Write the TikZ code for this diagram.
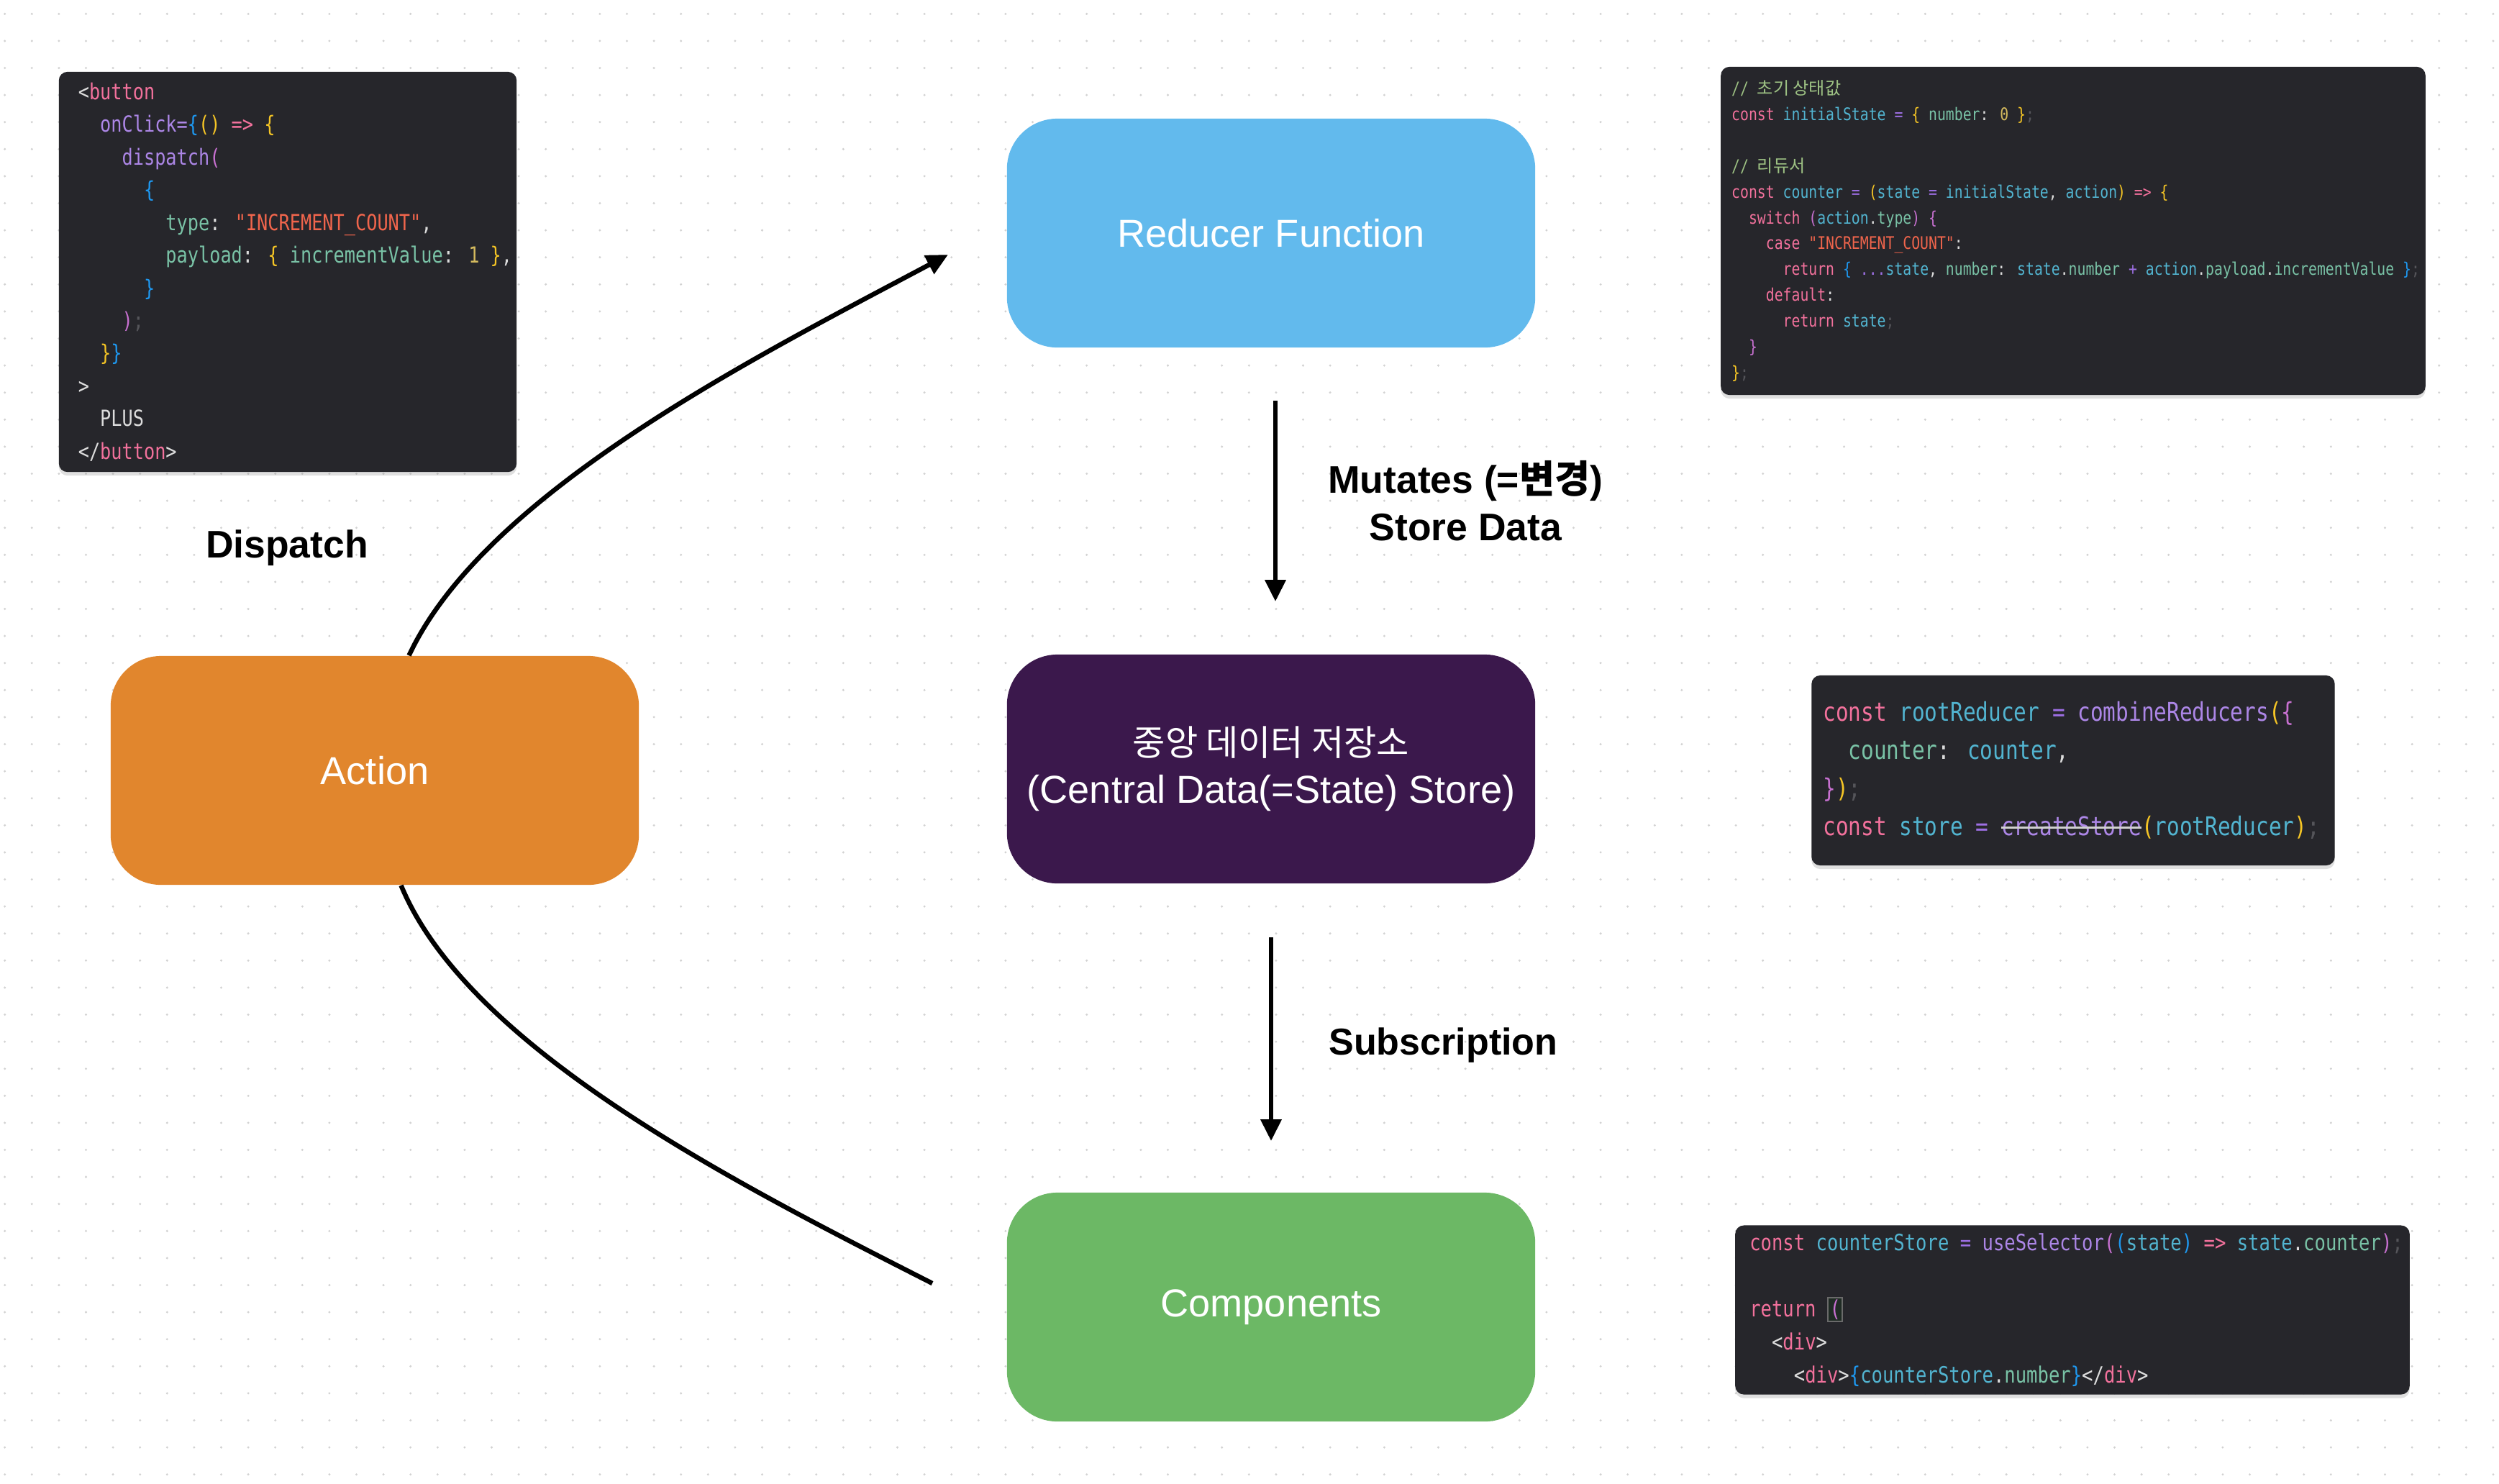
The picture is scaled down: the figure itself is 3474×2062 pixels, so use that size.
\documentclass[tikz,border=0pt]{standalone}
\usepackage{fontspec}
\setmainfont{Liberation Sans}
\newfontfamily\kr{Noto Sans CJK KR}
\newfontfamily\codefont{DejaVu Sans Mono}[FakeStretch=0.82]
\usetikzlibrary{arrows.meta,positioning,shadows}

\definecolor{dotgray}{HTML}{D2D2D2}
\definecolor{codebg}{HTML}{26262B}
\definecolor{reducerblue}{HTML}{62BAED}
\definecolor{storepurple}{HTML}{3B184C}
\definecolor{compgreen}{HTML}{6CB865}
\definecolor{actionorange}{HTML}{E1862D}
% syntax colours of the snippets
\definecolor{ckey}{HTML}{F2719C}
\definecolor{cfun}{HTML}{AC86E6}
\definecolor{ceq}{HTML}{9D6FE3}
\definecolor{cbr}{HTML}{1E98F0}
\definecolor{cyel}{HTML}{F5C525}
\definecolor{cpro}{HTML}{79C2A6}
\definecolor{cvar}{HTML}{52B4D0}
\definecolor{cstr}{HTML}{F0654C}
\definecolor{cnum}{HTML}{D4BA5E}
\definecolor{cmag}{HTML}{C770D0}
\definecolor{cpl}{HTML}{DCDCDC}
\definecolor{csemi}{HTML}{55555A}
\definecolor{ccom}{HTML}{9DC183}
\definecolor{cstrike}{HTML}{D0D0D0}
\definecolor{ccursor}{HTML}{1F2B24}
\definecolor{cdim}{HTML}{6A6A6A}

\newcommand{\cKey}[1]{\textcolor{ckey}{#1}}
\newcommand{\cFun}[1]{\textcolor{cfun}{#1}}
\newcommand{\cEq}[1]{\textcolor{ceq}{#1}}
\newcommand{\cBr}[1]{\textcolor{cbr}{#1}}
\newcommand{\cYel}[1]{\textcolor{cyel}{#1}}
\newcommand{\cPro}[1]{\textcolor{cpro}{#1}}
\newcommand{\cVar}[1]{\textcolor{cvar}{#1}}
\newcommand{\cStr}[1]{\textcolor{cstr}{#1}}
\newcommand{\cNum}[1]{\textcolor{cnum}{#1}}
\newcommand{\cMag}[1]{\textcolor{cmag}{#1}}
\newcommand{\cPl}[1]{\textcolor{cpl}{#1}}
\newcommand{\cSemi}[1]{\textcolor{csemi}{#1}}
\newcommand{\cCom}[1]{\textcolor{ccom}{#1}}
\newcommand{\ind}[1]{\hspace*{#1\fontcharwd\font`0}}
\newcommand{\struck}[2]{\rlap{#2}\textcolor{cstrike}{\rule[0.28em]{#1\fontcharwd\font`0}{0.08em}}}
\newcommand{\cursorbox}[1]{{\setlength{\fboxsep}{0.4pt}\setlength{\fboxrule}{0.6pt}\fcolorbox{cdim}{ccursor}{#1}}}

\begin{document}
\begin{tikzpicture}[x=0.01cm, y=-0.01cm,
	>={Triangle[length=0.3cm,width=0.28cm]}, % filled arrow head
	flow/.style={line width=0.065cm},
	blk/.style={rounded corners=0.7cm, minimum width=7.34cm, minimum height=3.18cm,
		text=white, align=center, font=\fontsize{15.4}{18.8}\selectfont},
	lbl/.style={font=\bfseries\fontsize{15.2}{18.8}\selectfont, align=center, inner sep=0pt},
	codebox/.style={fill=codebg, rounded corners=0.12cm,
		drop shadow={shadow xshift=0pt, shadow yshift=-0.05cm, opacity=0.25}},
	codetxt/.style={inner sep=0pt, align=left, anchor=west}]

	\useasboundingbox (0,0) rectangle (3474,2062);
	\fill[white] (0,0) rectangle (3474,2062);

	% dotted canvas
	\foreach \i in {0,...,92}
		\foreach \j in {0,...,54}
			\fill[dotgray] (6.7+37.6*\i, 19.3+37.6*\j) circle (0.47pt);

	\node[blk, fill=reducerblue] (reducer) at (1767,324)	{Reducer Function};
	\node[blk, fill=storepurple] (store) at (1767,1069)	{{\kr\fontsize{14}{18.8}\selectfont 중앙 데이터 저장소}\\(Central Data(=State) Store)};
	\node[blk, fill=compgreen] (comps) at (1767,1817)	{Components};
	\node[blk, fill=actionorange] (action) at (521,1071)	{Action};

	\node[lbl] (dispatchLbl) at (399,762) {Dispatch};

	\coordinate (dispEnd) at (1318,354);
	\coordinate (subEnd) at (1296,1784);

	\draw[flow,->] ([xshift=0.475cm]action.north) .. controls (675,684) and (1053,495) .. (dispEnd);
	\draw[flow] ([xshift=0.365cm]action.south) .. controls (652,1459) and (1029,1648) .. (subEnd);
	\draw[flow,->,shorten <=0.73cm,shorten >=0.73cm] ([xshift=0.06cm]reducer.south) -- ([xshift=0.06cm]store.north)
		node[midway, right=0.7cm, lbl] (mutatesLbl) {Mutates (={\kr 변경})\\Store Data};
	\draw[flow,->,shorten <=0.74cm,shorten >=0.71cm] (store.south) -- (comps.north)
		node[midway, right=0.77cm, yshift=-0.1cm, lbl, font=\bfseries\fontsize{14.8}{18.8}\selectfont] (subLbl) {Subscription};

	% code snippets
	\node[codebox, minimum width=6.36cm, minimum height=5.56cm] (codeBtn) at (400,378) {};
	\node[codetxt, right=0.27cm of codeBtn.west, font=\codefont\fontsize{8.76}{12.92}\selectfont] (btnTxt) {%
		\cPl{<}\cKey{button}\\
		\ind{2}\cFun{onClick=}\cBr{\{}\cYel{()} \cKey{=>} \cYel{\{}\\
		\ind{4}\cFun{dispatch}\cMag{(}\\
		\ind{6}\cBr{\{}\\
		\ind{8}\cPro{type}\cPl{:} \cStr{"INCREMENT\_COUNT"}\cPl{,}\\
		\ind{8}\cPro{payload}\cPl{:} \cYel{\{} \cPro{incrementValue}\cPl{:} \cNum{1} \cYel{\}}\cPl{,}\\
		\ind{6}\cBr{\}}\\
		\ind{4}\cMag{)}\cSemi{;}\\
		\ind{2}\cYel{\}}\cBr{\}}\\
		\cPl{>}\\
		\ind{2}\cPl{PLUS}\\
		\cPl{</}\cKey{button}\cPl{>}};

	\node[codebox, minimum width=9.79cm, minimum height=4.56cm] (codeRed) at (2882,321) {};
	\node[codetxt, right=0.15cm of codeRed.west, font=\codefont\fontsize{6.86}{10.19}\selectfont] (redTxt) {%
		\cCom{// {\kr 초기 상태값}}\\
		\cKey{const} \cVar{initialState} \cEq{=} \cYel{\{} \cPro{number}\cPl{:} \cNum{0} \cYel{\}}\cSemi{;}\\
		\mbox{}\\
		\cCom{// {\kr 리듀서}}\\
		\cKey{const} \cVar{counter} \cEq{=} \cYel{(}\cVar{state} \cEq{=} \cVar{initialState}\cPl{,} \cVar{action}\cYel{)} \cKey{=>} \cYel{\{}\\
		\ind{2}\cKey{switch} \cMag{(}\cVar{action}\cPl{.}\cPro{type}\cMag{)} \cMag{\{}\\
		\ind{4}\cKey{case} \cStr{"INCREMENT\_COUNT"}\cPl{:}\\
		\ind{6}\cKey{return} \cBr{\{} \cEq{...}\cVar{state}\cPl{,} \cPro{number}\cPl{:} \cVar{state}\cPl{.}\cPro{number} \cEq{+} \cVar{action}\cPl{.}\cPro{payload}\cPl{.}\cPro{incrementValue} \cBr{\}}\cSemi{;}\\
		\ind{4}\cKey{default}\cPl{:}\\
		\ind{6}\cKey{return} \cVar{state}\cSemi{;}\\
		\ind{2}\cMag{\}}\\
		\cYel{\}}\cSemi{;}};

	\node[codebox, minimum width=7.27cm, minimum height=2.64cm] (codeRoot) at (2882,1071) {};
	\node[codetxt, right=0.16cm of codeRoot.west, font=\codefont\fontsize{10.2}{15.08}\selectfont] (rootTxt) {%
		\cKey{const} \cVar{rootReducer} \cEq{=} \cFun{combineReducers}\cYel{(}\cMag{\{}\\
		\ind{2}\cPro{counter}\cPl{:} \cVar{counter}\cPl{,}\\
		\cMag{\}}\cYel{)}\cSemi{;}\\
		\cKey{const} \cVar{store} \cEq{=} \struck{11}{\cFun{createStore}}\cYel{(}\cVar{rootReducer}\cYel{)}\cSemi{;}};

	\node[codebox, minimum width=9.37cm, minimum height=2.35cm] (codeSel) at (2881,1821) {};
	\node[codetxt, right=0.2cm of codeSel.west, font=\codefont\fontsize{8.87}{13.06}\selectfont] (selTxt) {%
		\cKey{const} \cVar{counterStore} \cEq{=} \cFun{useSelector}\cMag{(}\cBr{(}\cVar{state}\cBr{)} \cKey{=>} \cVar{state}\cPl{.}\cPro{counter}\cMag{)}\cSemi{;}\\
		\mbox{}\\
		\cKey{return} \cursorbox{\cMag{(}}\\
		\ind{2}\cPl{<}\cKey{div}\cPl{>}\\
		\ind{4}\cPl{<}\cKey{div}\cPl{>}\cBr{\{}\cVar{counterStore}\cPl{.}\cPro{number}\cBr{\}}\cPl{</}\cKey{div}\cPl{>}};
\end{tikzpicture}
\end{document}
